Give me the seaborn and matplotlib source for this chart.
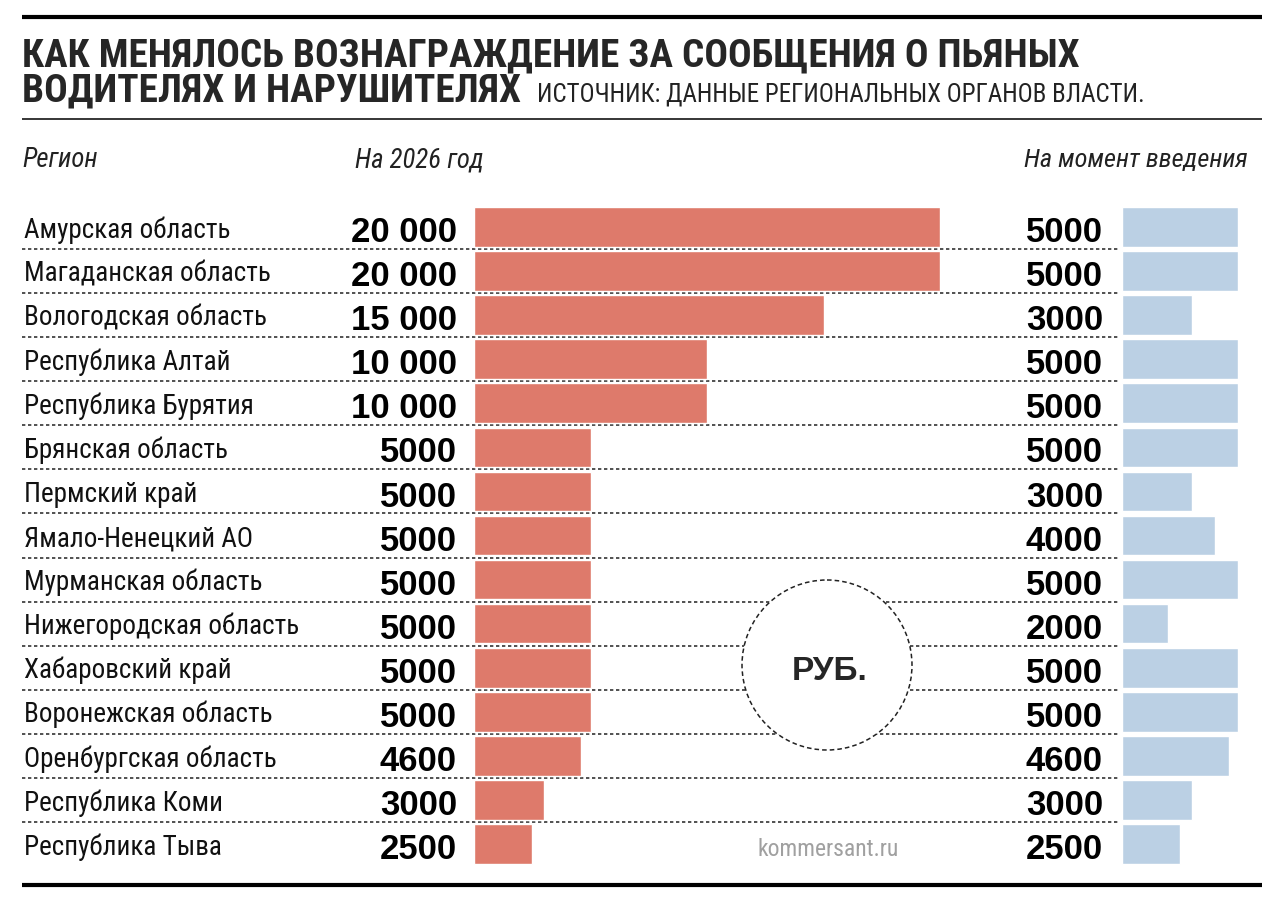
import matplotlib
matplotlib.use('Agg')
import matplotlib.pyplot as plt
import matplotlib.transforms as mtransforms
from matplotlib.patches import Circle
import seaborn as sns

# data
regions = ['Амурская область', 'Магаданская область', 'Вологодская область',
           'Республика Алтай', 'Республика Бурятия', 'Брянская область',
           'Пермский край', 'Ямало-Ненецкий АО', 'Мурманская область',
           'Нижегородская область', 'Хабаровский край', 'Воронежская область',
           'Оренбургская область', 'Республика Коми', 'Республика Тыва']
reward_2026 = [20000, 20000, 15000, 10000, 10000, 5000, 5000, 5000, 5000,
               5000, 5000, 5000, 4600, 3000, 2500]
reward_initial = [5000, 5000, 3000, 5000, 5000, 5000, 3000, 4000, 5000,
                  2000, 5000, 5000, 4600, 3000, 2500]

RED = '#de7a6b'
BLUE = '#bbd0e4'
NARROW = ['Roboto Condensed', 'IBM Plex Sans Condensed', 'DejaVu Sans']
PLAIN = ['Liberation Sans', 'DejaVu Sans']

sns.set_style('white')
plt.rcParams['font.family'] = NARROW

W, H = 1280, 904
fig = plt.figure(figsize=(W / 100, H / 100), dpi=100)

# pixel-coordinate canvas for rules, labels and decorations
canvas = fig.add_axes([0, 0, 1, 1], zorder=0)
canvas.set_xlim(0, W)
canvas.set_ylim(H, 0)
canvas.axis('off')

top_px, bottom_px = 206, 867
ax_y = 1 - bottom_px / H
ax_h = (bottom_px - top_px) / H


def fmt(v):
    return f'{v:,}'.replace(',', ' ') if v >= 10000 else str(v)


ax_red = fig.add_axes([474 / W, ax_y, 466 / W, ax_h], zorder=2)
ax_blue = fig.add_axes([1122 / W, ax_y, 116 / W, ax_h], zorder=2)

sns.barplot(x=reward_2026, y=regions, orient='h', color=RED, saturation=1,
            width=0.9, ax=ax_red)
sns.barplot(x=reward_initial, y=regions, orient='h', color=BLUE, saturation=1,
            width=0.9, ax=ax_blue)

n = len(regions)
for ax, lim in ((ax_red, 20000), (ax_blue, 5000)):
    ax.set_xlim(0, lim)
    ax.set_ylim(n - 0.5, -0.5)
    ax.axis('off')
    ax.patch.set_alpha(0)

# x in pixels, y in row units
row = mtransforms.blended_transform_factory(canvas.transData, ax_red.transData)

for i, (name, v_now, v_init) in enumerate(zip(regions, reward_2026, reward_initial)):
    canvas.text(24, i + 0.22, name, transform=row, ha='left', va='baseline',
                fontsize=19.5, color='#111111')
    canvas.text(457, i + 0.32, fmt(v_now), transform=row, ha='right', va='baseline',
                fontsize=25, fontweight='bold', family=PLAIN, color='black')
    canvas.text(1103, i + 0.32, fmt(v_init), transform=row, ha='right', va='baseline',
                fontsize=25, fontweight='bold', family=PLAIN, color='black')
    if i < n - 1:
        canvas.plot([22, 1120], [i + 0.5, i + 0.5], transform=row, color='#333333',
                    lw=1.2, ls=(0, (2, 1.6)), zorder=1)

# rules
canvas.plot([22, 1262], [18, 18], color='black', lw=3, solid_capstyle='butt')
canvas.plot([22, 1262], [120, 120], color='black', lw=1.1, solid_capstyle='butt')
canvas.plot([22, 1262], [886, 886], color='black', lw=3, solid_capstyle='butt')

# title and source
canvas.text(22, 66, 'КАК МЕНЯЛОСЬ ВОЗНАГРАЖДЕНИЕ ЗА СООБЩЕНИЯ О ПЬЯНЫХ',
            ha='left', va='baseline', fontsize=28.3, fontweight='black')
canvas.text(22, 101, 'ВОДИТЕЛЯХ И НАРУШИТЕЛЯХ', ha='left', va='baseline',
            fontsize=28.3, fontweight='black')
canvas.text(537, 101, 'ИСТОЧНИК: ДАННЫЕ РЕГИОНАЛЬНЫХ ОРГАНОВ ВЛАСТИ.',
            ha='left', va='baseline', fontsize=18, color='#222222')

# column headers
canvas.text(22, 167, 'Регион', ha='left', va='baseline', fontsize=19.3,
            style='italic', color='#222222')
canvas.text(355, 167, 'На 2026 год', ha='left', va='baseline', fontsize=19.3,
            style='italic', color='#222222')
canvas.text(1248, 167, 'На момент введения', ha='right', va='baseline', fontsize=19,
            style='italic', color='#222222')

# unit badge
canvas.add_patch(Circle((827, 666), 85, facecolor='white', edgecolor='#222222',
                        lw=1.1, ls=(0, (3, 2)), zorder=3))
canvas.text(830, 680, 'РУБ.', ha='center', va='baseline', fontsize=24,
            fontweight='bold', family=PLAIN, zorder=4)

canvas.text(828, 850, 'kommersant.ru', ha='center', va='center', fontsize=17,
            color='#a0a0a0')

fig.savefig('out.png', dpi=100)
